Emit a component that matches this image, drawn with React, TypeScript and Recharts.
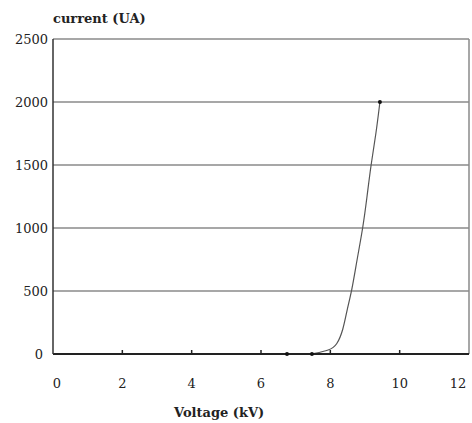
import React from 'react';
import { ComposedChart, Line, Scatter, XAxis, YAxis, CartesianGrid, ReferenceLine } from 'recharts';

// voltage in kV, current in uA
const curveVoltage = [7.47, 7.99, 8.19, 8.37, 8.48, 8.62, 8.77, 8.94, 9.06, 9.17, 9.32, 9.43];
const curveCurrent = [0, 30, 70, 190, 350, 500, 750, 1000, 1250, 1500, 1750, 2000];

const markerVoltage = [6.75, 7.47, 9.43];
const markerCurrent = [0, 0, 2000];

const xTicks = [0, 2, 4, 6, 8, 10, 12];
const yTicks = [0, 500, 1000, 1500, 2000, 2500];

const curve = curveVoltage.map((v, i) => ({ voltage: v, current: curveCurrent[i] }));
const markers = markerVoltage.map((v, i) => ({ voltage: v, current: markerCurrent[i] }));

const FONT = '"DejaVu Serif", serif';

const XTick = (props: any) => {
  const { x, y, payload } = props;
  const v = payload.value;
  let shift = 0;
  if (v === 0) shift = 4;
  if (v === 12) shift = -6;
  return (
    <g>
      {v !== 0 && v !== 12 && (
        <line x1={x} y1={y - 4} x2={x} y2={y + 1} stroke="#222" strokeWidth={1.5} />
      )}
      <text x={x + shift} y={y + 29} dy="0.35em" textAnchor="middle" fontFamily={FONT} fontSize={13} fill="#222">
        {v}
      </text>
    </g>
  );
};

const YTick = (props: any) => {
  const { x, y, payload } = props;
  const v = payload.value;
  return (
    <text x={v === 0 ? x - 5 : x} y={y} dy="0.35em" textAnchor="end" fontFamily={FONT} fontSize={13} fill="#222">
      {v}
    </text>
  );
};

const App: React.FC = () => {
  return (
    <div style={{ position: 'relative', width: 472, height: 423, fontFamily: FONT, color: '#222', background: '#fff' }}>
      <style>{'body { margin: 0; }'}</style>
      <div style={{ position: 'absolute', left: 8, top: 8 }}>
        <ComposedChart width={464} height={415} margin={{ top: 31, right: 3, bottom: 39, left: 0 }}>
          <CartesianGrid horizontal vertical={false} stroke="#8a8a8a" strokeWidth={1.5} />
          <XAxis
            type="number"
            dataKey="voltage"
            domain={[0, 12]}
            ticks={xTicks}
            height={30}
            tickSize={0}
            tickMargin={0}
            tick={<XTick />}
            axisLine={{ stroke: '#222', strokeWidth: 2 }}
            allowDataOverflow
          />
          <YAxis
            type="number"
            domain={[0, 2500]}
            ticks={yTicks}
            width={45}
            tickSize={0}
            tickMargin={5}
            tick={<YTick />}
            axisLine={{ stroke: '#333', strokeWidth: 1.5 }}
          />
          <ReferenceLine x={12} stroke="#8a8a8a" strokeWidth={1.5} />
          <Line
            data={curve}
            dataKey="current"
            type="basis"
            stroke="#555"
            strokeWidth={1.2}
            dot={false}
            activeDot={false}
            isAnimationActive={false}
          />
          <Scatter
            data={markers}
            dataKey="current"
            fill="#111"
            shape={(p: any) => <circle cx={p.cx} cy={p.cy} r={2} fill="#111" />}
            isAnimationActive={false}
          />
        </ComposedChart>
      </div>
      <div style={{ position: 'absolute', left: 53, top: 11, fontSize: 13, fontWeight: 'bold', lineHeight: '16px' }}>
        current (UA)
      </div>
      <div style={{ position: 'absolute', left: 174, top: 405, fontSize: 13, fontWeight: 'bold', lineHeight: '16px' }}>
        Voltage (kV)
      </div>
    </div>
  );
};

export default App;
